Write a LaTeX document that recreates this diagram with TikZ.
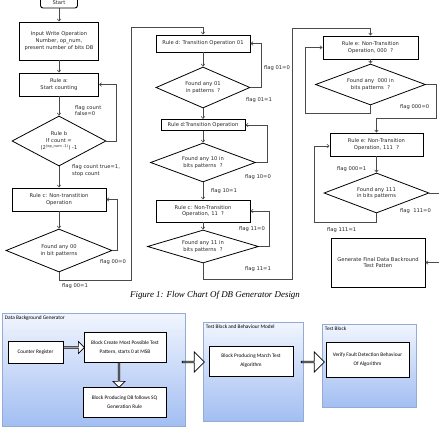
\documentclass[tikz,border=0pt]{standalone}
\usepackage{fontspec}
\setmainfont{Liberation Serif}
\newfontfamily\chartfont{DejaVu Sans}
\newfontfamily\blockfont{Carlito}
\usetikzlibrary{shapes.geometric,shapes.arrows,arrows.meta,calc}

\definecolor{wire}{HTML}{4A4A4A}
\definecolor{paneltop}{HTML}{F1F5FE}
\definecolor{panelbottom}{HTML}{A2BEF2}
\definecolor{paneledge}{HTML}{94ABD6}

\begin{document}
\begin{tikzpicture}[x=1pt,y=-1pt,
        every node/.style={inner sep=0pt},
        chart/.style={font=\chartfont\fontsize{5.2}{6.8}\selectfont, text=black!85},
        rulebox/.style={chart, draw=black, line width=0.9pt, align=center},
        test/.style={chart, diamond, aspect=2.5, draw=black, line width=0.8pt, align=center},
        flag/.style={chart, align=left},
        flow/.style={draw=wire, line width=0.6pt, -{Straight Barb[length=2.2pt,width=3.6pt]}},
        panel/.style={draw=paneledge, line width=0.6pt, top color=paneltop, bottom color=panelbottom},
        paneltitle/.style={font=\blockfont\fontsize{5.3}{7}\selectfont, anchor=north west},
        block/.style={font=\blockfont\fontsize{5.3}{9}\selectfont, draw=black, line width=0.9pt, fill=white, align=center},
        hollow/.style={single arrow, draw=black, line width=0.7pt, fill=white, single arrow head extend=2.5pt}]
        \useasboundingbox (0,0) rectangle (439,433);
        \clip (0,0) rectangle (439,433);

        % first column: rules a, b, c
        \node[rulebox, rounded corners=2.5pt, minimum width=37pt, minimum height=11pt] (start) at (59,2.5) {Start};
        \node[rulebox, minimum width=79pt, minimum height=38pt] (input) at (59,41) {Input Write Operation\\Number, op\_num,\\present number of bits DB};
        \node[rulebox, minimum width=79pt, minimum height=23pt] (rulea) at (59,84.5) {Rule a:\\Start counting};
        \node[test, minimum width=94pt, minimum height=50pt] (ruleb) at (59,141) {Rule b\\If count =\\(2\textsuperscript{(op\_num -1)}) -1};
        \node[rulebox, minimum width=94pt, minimum height=23pt] (rulec) at (59,199.5) {Rule c: Non-transtition\\Operation};
        \node[test, minimum width=106pt, minimum height=43pt] (find00) at (59,250.5) {Found any 00\\in bit patterns};

        \draw[flow] (start) -- (input);
        \draw[flow] (input) -- (rulea);
        \draw[flow] (rulea) -- (ruleb);
        \draw[flow] (ruleb.east) -- ++(10,0) |- (rulea.east);
        \draw[flow] (ruleb) -- (rulec);
        \draw[flow] (rulec) -- (find00);
        \draw[flow] (find00.east) -- ++(5,0) |- (rulec.east);

        \node[flag, anchor=west] (fcfalse) at (75,110.5) {flag count\\false=0};
        \node[flag, anchor=west] (fctrue) at (72,170.5) {flag count true=1,\\stop count};
        \node[flag, anchor=west] (f00zero) at (100,262) {flag 00=0};
        \node[flag] (f00one) at (75,286) {flag 00=1};

        % second column: rules d, d, c
        \node[rulebox, minimum width=94pt, minimum height=17pt] (ruled) at (203,43.5) {Rule d: Transition Operation 01};
        \node[test, minimum width=94pt, minimum height=41pt] (find01) at (203,87.5) {Found any 01\\in patterns~~?};
        \node[rulebox, minimum width=84pt, minimum height=11pt] (ruledd) at (203,125) {Rule d:Transition Operation};
        \node[test, minimum width=105pt, minimum height=39pt] (find10) at (203,162.5) {Found any 10 in\\bits patterns~~?};
        \node[rulebox, minimum width=94pt, minimum height=22pt] (rulecc) at (203,211) {Rule c: Non-Transition\\Operation, 11~~?};
        \node[test, minimum width=111pt, minimum height=33pt] (find11) at (203,246.5) {Found any 11 in\\bits patterns~~?};

        \coordinate (up1) at (131,27);
        \draw[flow] (find00.south) -- ++(0,8) -| (up1) -| (ruled.north);
        \draw[flow] (ruled) -- (find01);
        \draw[flow] (find01.east) -- ++(11,0) |- (ruled.east);
        \draw[flow] (find01) -- (ruledd);
        \draw[flow] (ruledd) -- (find10);
        \draw[flow] (find10.east) -- ++(11,0) |- (ruledd.east);
        \draw[flow] (find10) -- (rulecc);
        \draw[flow] (rulecc) -- (find11);
        \draw[flow] (find11.east) -- ++(10,0) |- (rulecc.east);

        \node[flag] (f01zero) at (277,68) {flag 01=0};
        \node[flag] (f01one) at (259,100) {flag 01=1};
        \node[flag] (f10zero) at (258,177) {flag 10=0};
        \node[flag] (f10one) at (224,191) {flag 10=1};
        \node[flag] (f11zero) at (252,229) {flag 11=0};
        \node[flag] (f11one) at (258,269) {flag 11=1};

        % third column: rules e, e and the end
        \node[rulebox, minimum width=95pt, minimum height=23pt] (rulee) at (370.5,47.5) {Rule e: Non-Transition\\Operation, 000~~?};
        \node[test, minimum width=110pt, minimum height=41pt] (find000) at (370.5,84.5) {Found any~~000 in\\bits patterns~~?};
        \node[rulebox, minimum width=93pt, minimum height=23pt] (ruleee) at (376.5,144.5) {Rule e: Non-Transition\\Operation, 111~~?};
        \node[test, minimum width=105pt, minimum height=40pt] (find111) at (376.5,193) {Found any 111\\in bits patterns};
        \node[rulebox, minimum width=94pt, minimum height=49pt] (final) at (378,262.5) {Generate Final Data Backround\\Test Patten};

        \coordinate (up2) at (292,28);
        \draw[flow] (find11.south) -- ++(0,16) -| (up2) -| (rulee.north);
        \draw[flow] (rulee) -- (find000);
        \coordinate (back000) at (305,47.5);
        \draw[flow] (find000.south) -- ++(0,8) -| (back000) -- (rulee.west);
        \coordinate (down000) at (436,118);
        \draw[flow] (find000.east) -| (down000) -| (ruleee.north);
        \draw[flow] (ruleee) -- (find111);
        \coordinate (back111) at (314,146);
        \draw[flow] (find111.south) -- ++(0,9) -| (back111) -- (back111 -| ruleee.west);
        \coordinate (edge111) at (446,193);
        \draw[flow] (find111.east) -- (edge111) |- (final.east);

        \node[flag, anchor=west] (f000zero) at (400,107) {flag 000=0};
        \node[flag, anchor=west] (f000one) at (337,169) {flag 000=1};
        \node[flag, anchor=west] (f111zero) at (400,211) {flag~ 111=0};
        \node[flag, anchor=west] (f111one) at (327,230) {flag 111=1};

        \node[font=\itshape\fontsize{8.9}{10}\selectfont] (caption) at (215,295.5) {Figure 1: Flow Chart Of DB Generator Design};

        % block view
        \node[panel, minimum width=183pt, minimum height=113pt] (dbg) at (93.5,369.5) {};
        \node[paneltitle] (dbgtitle) at ($(dbg.north west)+(3,3)$) {Data Background Generator};
        \node[block, minimum width=55pt, minimum height=22pt] (counter) at (35.5,352) {Counter Register};
        \node[block, minimum width=82pt, minimum height=30pt] (create) at (125,347) {Block Create Most Possible Test\\Pattern, starts 0 at MSB};
        \node[block, minimum width=83pt, minimum height=30pt] (produce) at (124.5,402) {Block Producing DB follows SQ\\Generation Rule};

        \node[panel, minimum width=100pt, minimum height=99pt] (tbm) at (253,371.5) {};
        \node[paneltitle] (tbmtitle) at ($(tbm.north west)+(3,3)$) {Test Block and Behaviour Model};
        \node[block, minimum width=84pt, minimum height=30pt] (march) at (251,361) {Block Producing March Test\\Algorithm};

        \node[panel, minimum width=94pt, minimum height=83pt] (tb) at (369,365.5) {};
        \node[paneltitle] (tbtitle) at ($(tb.north west)+(3,3)$) {Test Block};
        \node[block, minimum width=83pt, minimum height=35pt] (verify) at (367.5,359.5) {Verify Fault Detection Behaviour\\Of Algorithm};

        \node[hollow, minimum height=21pt, minimum width=12pt] (push1) at (73.5,347.5) {};
        \node[hollow, minimum height=25pt, minimum width=12pt, rotate=-90] (push2) at (119,374.5) {};
        \node[hollow, minimum height=22pt, minimum width=20pt, single arrow head extend=5pt] (push3) at (193,362) {};
        \node[hollow, minimum height=23pt, minimum width=20pt, single arrow head extend=5pt] (push4) at (312.5,362) {};
    \end{tikzpicture}
\end{document}
